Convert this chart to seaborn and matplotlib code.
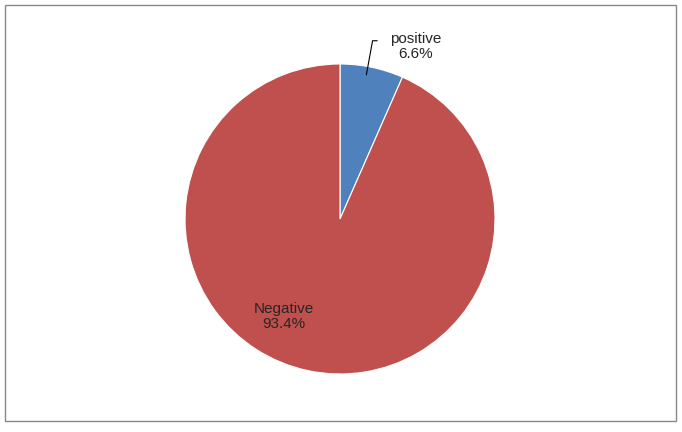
import matplotlib
matplotlib.use("Agg")
import matplotlib.pyplot as plt
import seaborn as sns
from matplotlib.patches import Rectangle

sns.set_theme(style="white")
plt.rcParams['font.family'] = ['Liberation Sans', 'DejaVu Sans']

labels = ["positive", "Negative"]
values = [6.6, 93.4]
colors = ["#4F81BD", "#C0504D"]

fig = plt.figure(figsize=(6.82, 4.32), dpi=100)
fig.patches.append(Rectangle((5/682, 1-421/432), 671/682, 416/432, transform=fig.transFigure,
                             fill=False, edgecolor="#898989", linewidth=1))
ax = fig.add_axes([0.2713, 0.1343, 0.4545, 0.7176])
ax.pie(values, colors=colors, startangle=90, counterclock=False,
       wedgeprops=dict(linewidth=0.8, edgecolor="white"))
ax.set_xlim(-1, 1); ax.set_ylim(-1, 1); ax.set_aspect("equal")
ax.axis("off")
ax.text(0.49, 1.11, f"{labels[0]}\n{values[0]}%", ha="center", va="center", fontsize=11, linespacing=1.1)
ax.plot([0.24, 0.21, 0.17], [1.15, 1.15, 0.93], color="black", linewidth=0.8, clip_on=False)
ax.text(-0.36, -0.63, f"{labels[1]}\n{values[1]}%", ha="center", va="center", fontsize=11, linespacing=1.1)
fig.savefig("out.png", dpi=100)
